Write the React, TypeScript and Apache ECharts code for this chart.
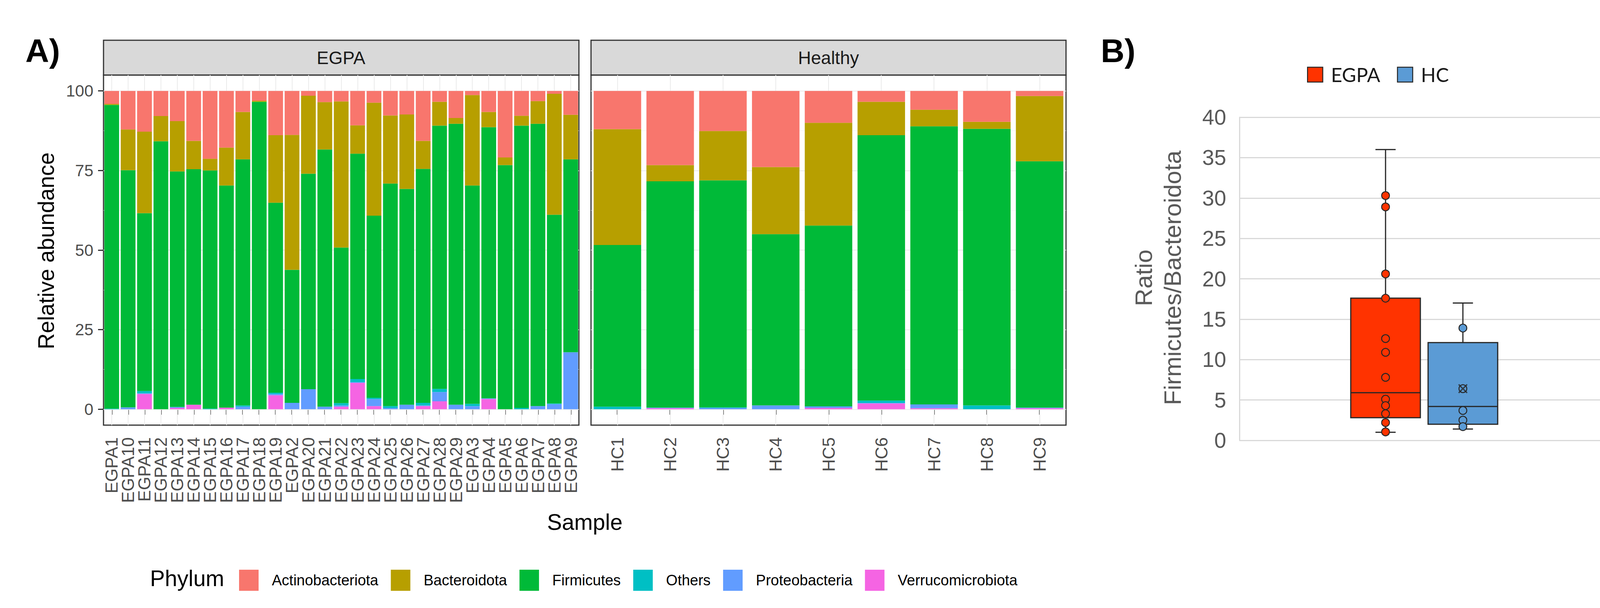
import React, { useEffect, useRef } from "react";
import * as echarts from "echarts";

// ---------- DATA ----------
const egpaSamples = [
  "EGPA1", "EGPA10", "EGPA11", "EGPA12", "EGPA13", "EGPA14", "EGPA15", "EGPA16", "EGPA17", "EGPA18",
  "EGPA19", "EGPA2", "EGPA20", "EGPA21", "EGPA22", "EGPA23", "EGPA24", "EGPA25", "EGPA26", "EGPA27",
  "EGPA28", "EGPA29", "EGPA3", "EGPA4", "EGPA5", "EGPA6", "EGPA7", "EGPA8", "EGPA9",
];
const hcSamples = ["HC1", "HC2", "HC3", "HC4", "HC5", "HC6", "HC7", "HC8", "HC9"];

const phyla = ["Actinobacteriota", "Bacteroidota", "Firmicutes", "Others", "Proteobacteria", "Verrucomicrobiota"];
const phylumColors = ["#F8766D", "#B79F00", "#00BA38", "#00BFC4", "#619CFF", "#F564E3"];

const egpaActinobacteriota = [4.1, 12.1, 12.8, 7.9, 9.5, 15.7, 21.3, 17.8, 6.6, 3.1, 13.9, 13.8, 1.5, 3.5, 3.3, 10.8, 3.7, 7.7, 7.4, 15.7, 3.4, 8.5, 1.3, 6.6, 20.9, 7.8, 3.2, 0.9, 7.5];
const egpaBacteroidota = [0.3, 12.8, 25.6, 7.9, 15.8, 8.9, 3.7, 11.9, 14.9, 0.3, 21.2, 42.4, 24.5, 14.9, 45.9, 8.9, 35.5, 21.4, 23.4, 8.8, 7.5, 1.8, 28.4, 4.8, 2.4, 3.1, 7.1, 38.0, 14.0];
const egpaFirmicutes = [95.4, 74.5, 55.9, 84.2, 74.0, 74.0, 74.8, 69.8, 77.3, 96.6, 59.7, 41.8, 67.7, 80.8, 48.9, 70.8, 57.2, 69.9, 67.8, 73.5, 82.7, 88.3, 68.6, 85.2, 76.7, 88.7, 88.7, 59.3, 60.6];
const egpaOthers = [0.2, 0, 0.7, 0, 0, 0, 0.2, 0, 0.4, 0, 0.4, 0, 0, 0, 0.7, 1.0, 0.4, 0.6, 0, 0.8, 1.0, 0, 0.7, 0, 0, 0.4, 0, 0.2, 0];
const egpaProteobacteria = [0, 0.6, 0.2, 0, 0.3, 0, 0, 0, 0.8, 0, 0.4, 2.0, 6.3, 0.8, 0.4, 0.2, 2.2, 0.4, 1.4, 0.2, 2.9, 1.4, 1.0, 0.2, 0, 0, 1.0, 1.6, 17.9];
const egpaVerrucomicrobiota = [0, 0, 4.8, 0, 0.4, 1.4, 0, 0.5, 0, 0, 4.4, 0, 0, 0, 0.8, 8.3, 1.0, 0, 0, 1.0, 2.5, 0, 0, 3.2, 0, 0, 0, 0, 0];

const hcActinobacteriota = [12.0, 23.3, 12.6, 23.9, 10.0, 3.4, 5.9, 9.7, 1.6];
const hcBacteroidota = [36.4, 5.1, 15.5, 21.1, 32.3, 10.5, 5.2, 2.2, 20.5];
const hcFirmicutes = [50.8, 71.1, 71.3, 53.8, 56.8, 83.4, 87.4, 86.9, 77.4];
const hcOthers = [0.8, 0, 0.2, 0, 0, 0.7, 0, 1.2, 0];
const hcProteobacteria = [0, 0.2, 0.4, 1.2, 0.5, 0.2, 1.2, 0, 0.2];
const hcVerrucomicrobiota = [0, 0.3, 0, 0, 0.4, 1.8, 0.3, 0, 0.3];

const abundanceTicks = [0, 25, 50, 75, 100];
const abundanceMinor = [12.5, 37.5, 62.5, 87.5];

// Panel B: Firmicutes/Bacteroidota ratio
const groups = ["EGPA", "HC"];
const groupColors = ["#FF3300", "#5B9BD5"];
// [min, Q1, median, Q3, max]
const egpaBox = [1.0, 2.8, 5.9, 17.6, 36.0];
const hcBox = [1.4, 2.0, 4.2, 12.1, 17.0];
const egpaPoints = [30.3, 28.9, 20.6, 17.6, 12.6, 10.9, 7.8, 5.1, 4.3, 3.3, 2.2, 1.05];
const hcPoints = [13.9, 6.4, 3.7, 2.5, 1.7];
const hcMean = 6.4;

// ---------- CHART ----------
const FONT = "'Liberation Sans', Arial, sans-serif";

function buildOption() {
  const egpaData = [egpaActinobacteriota, egpaBacteroidota, egpaFirmicutes, egpaOthers, egpaProteobacteria, egpaVerrucomicrobiota];
  const hcData = [hcActinobacteriota, hcBacteroidota, hcFirmicutes, hcOthers, hcProteobacteria, hcVerrucomicrobiota];

  const gridLinesFor = (cats: string[]) => ({
    silent: true,
    symbol: ["none", "none"],
    label: { show: false },
    z: 1,
    animation: false,
    emphasis: { disabled: true },
    lineStyle: { color: "#EBEBEB", width: 2, type: "solid" },
    data: [
      ...cats.map((c) => ({ xAxis: c })),
      ...abundanceTicks.map((v) => ({ yAxis: v })),
      ...abundanceMinor.map((v) => ({ yAxis: v, lineStyle: { color: "#F2F2F2", width: 1, type: "solid" } })),
    ],
  });

  const barSeries: any[] = [];
  // stacking order bottom -> top: last phylum first
  for (let k = phyla.length - 1; k >= 0; k--) {
    const isBottom = k === phyla.length - 1;
    barSeries.push({
      name: phyla[k],
      type: "bar",
      xAxisIndex: 0,
      yAxisIndex: 0,
      stack: "egpa",
      barCategoryGap: "10%",
      itemStyle: { color: phylumColors[k] },
      data: egpaData[k],
      z: 2,
      ...(isBottom ? { markLine: gridLinesFor(egpaSamples) } : {}),
    });
    barSeries.push({
      name: phyla[k],
      type: "bar",
      xAxisIndex: 1,
      yAxisIndex: 1,
      stack: "hc",
      barCategoryGap: "10%",
      itemStyle: { color: phylumColors[k] },
      data: hcData[k],
      z: 2,
      ...(isBottom ? { markLine: gridLinesFor(hcSamples) } : {}),
    });
  }

  const renderBox = (params: any, api: any) => {
    const x = api.value(0);
    const pMin = api.coord([x, api.value(1)]);
    const pQ1 = api.coord([x, api.value(2)]);
    const pMed = api.coord([x, api.value(3)]);
    const pQ3 = api.coord([x, api.value(4)]);
    const pMax = api.coord([x, api.value(5)]);
    const bw = api.size([1, 0])[0] * 0.9;
    const cap = bw * 0.29;
    const cx = pMed[0];
    const stroke = "#262626";
    const fill = api.visual("color");
    const ls = { stroke, lineWidth: 3 };
    return {
      type: "group",
      children: [
        { type: "line", shape: { x1: cx, y1: pMax[1], x2: cx, y2: pQ3[1] }, style: ls },
        { type: "line", shape: { x1: cx - cap / 2, y1: pMax[1], x2: cx + cap / 2, y2: pMax[1] }, style: ls },
        { type: "line", shape: { x1: cx, y1: pQ1[1], x2: cx, y2: pMin[1] }, style: ls },
        { type: "line", shape: { x1: cx - cap / 2, y1: pMin[1], x2: cx + cap / 2, y2: pMin[1] }, style: ls },
        {
          type: "rect",
          shape: { x: cx - bw / 2, y: pQ3[1], width: bw, height: pQ1[1] - pQ3[1] },
          style: { fill, stroke, lineWidth: 3 },
        },
        { type: "line", shape: { x1: cx - bw / 2, y1: pMed[1], x2: cx + bw / 2, y2: pMed[1] }, style: ls },
      ],
    };
  };

  const boxSeries = [
    {
      name: "EGPA",
      type: "custom",
      xAxisIndex: 3,
      yAxisIndex: 3,
      itemStyle: { color: groupColors[0] },
      encode: { x: 0, y: [1, 2, 3, 4, 5] },
      renderItem: renderBox,
      data: [[groups[0], ...egpaBox]],
      z: 3,
    },
    {
      name: "HC",
      type: "custom",
      xAxisIndex: 3,
      yAxisIndex: 3,
      itemStyle: { color: groupColors[1] },
      encode: { x: 0, y: [1, 2, 3, 4, 5] },
      renderItem: renderBox,
      data: [[groups[1], ...hcBox]],
      z: 3,
    },
    {
      name: "EGPA",
      type: "scatter",
      xAxisIndex: 3,
      yAxisIndex: 3,
      symbol: "circle",
      symbolSize: 20,
      itemStyle: { color: groupColors[0], borderColor: "#262626", borderWidth: 2.5, opacity: 1 },
      data: egpaPoints.map((v) => [groups[0], v]),
      z: 5,
    },
    {
      name: "HC",
      type: "scatter",
      xAxisIndex: 3,
      yAxisIndex: 3,
      symbol: "circle",
      symbolSize: 20,
      itemStyle: { color: groupColors[1], borderColor: "#262626", borderWidth: 2.5, opacity: 1 },
      data: hcPoints.map((v) => [groups[1], v]),
      z: 5,
    },
    {
      name: "HC mean",
      type: "scatter",
      xAxisIndex: 3,
      yAxisIndex: 3,
      symbol: "path://M2,0 L10,8 L18,0 L20,2 L12,10 L20,18 L18,20 L10,12 L2,20 L0,18 L8,10 L0,2 Z",
      symbolSize: 24,
      itemStyle: { color: "#262626" },
      data: [[groups[1], hcMean]],
      z: 6,
    },
  ];

  const panelGrid = { show: true, backgroundColor: "#FFFFFF", borderColor: "#333333", borderWidth: 3 };

  return {
    animation: false,
    backgroundColor: "#FFFFFF",
    textStyle: { fontFamily: FONT },
    grid: [
      { left: 265, top: 192, width: 1217, height: 896, ...panelGrid },
      { left: 1513, top: 192, width: 1216, height: 896, ...panelGrid },
      { left: 3173, top: 300, width: 962, height: 827, show: false },
      { left: 3448, top: 300, width: 396, height: 827, show: false },
    ],
    xAxis: [
      {
        type: "category",
        gridIndex: 0,
        data: egpaSamples,
        axisLine: { show: false },
        axisTick: { show: true, alignWithLabel: true, length: 14, lineStyle: { color: "#333333", width: 3 } },
        axisLabel: { rotate: 90, fontSize: 44, color: "#4D4D4D", margin: 31, fontFamily: FONT, interval: 0 },
        splitLine: { show: false },
      },
      {
        type: "category",
        gridIndex: 1,
        data: hcSamples,
        axisLine: { show: false },
        axisTick: { show: true, alignWithLabel: true, length: 14, lineStyle: { color: "#333333", width: 3 } },
        axisLabel: { rotate: 90, fontSize: 44, color: "#4D4D4D", margin: 31, fontFamily: FONT, interval: 0 },
        splitLine: { show: false },
      },
      {
        type: "category",
        gridIndex: 2,
        data: [""],
        axisLine: { show: false },
        axisTick: { show: false },
        axisLabel: { show: false },
      },
      {
        type: "category",
        gridIndex: 3,
        data: groups,
        show: false,
      },
    ],
    yAxis: [
      {
        type: "value",
        gridIndex: 0,
        min: -5,
        max: 105,
        axisLine: { show: false },
        axisTick: { show: true, length: 14, customValues: abundanceTicks, lineStyle: { color: "#333333", width: 3 } },
        axisLabel: { fontSize: 42, color: "#4D4D4D", margin: 26, customValues: abundanceTicks, fontFamily: FONT },
        splitLine: { show: false },
      },
      {
        type: "value",
        gridIndex: 1,
        min: -5,
        max: 105,
        axisLine: { show: false },
        axisTick: { show: false },
        axisLabel: { show: false },
        splitLine: { show: false },
      },
      {
        type: "value",
        gridIndex: 2,
        min: 0,
        max: 40,
        interval: 5,
        axisLine: { show: true, lineStyle: { color: "#D9D9D9", width: 3 } },
        axisTick: { show: false },
        axisLabel: { fontSize: 55, color: "#595959", margin: 34, fontFamily: FONT },
        splitLine: { show: true, lineStyle: { color: "#D9D9D9", width: 3 } },
      },
      {
        type: "value",
        gridIndex: 3,
        min: 0,
        max: 40,
        interval: 5,
        show: false,
      },
    ],
    legend: [
      {
        data: phyla,
        left: 607,
        top: 1453,
        orient: "horizontal",
        icon: "rect",
        itemWidth: 50,
        itemHeight: 54,
        itemGap: 32,
        selectedMode: false,
        textStyle: { fontSize: 38, color: "#000000", fontFamily: FONT, padding: [0, 0, 0, 29] },
      },
      {
        data: groups,
        left: 3341,
        top: 161,
        orient: "horizontal",
        icon: "rect",
        itemWidth: 39,
        itemHeight: 38,
        itemGap: 43,
        selectedMode: false,
        itemStyle: { borderColor: "#262626", borderWidth: 2.5 },
        textStyle: { fontSize: 50, color: "#1A1A1A", fontFamily: "Lato, 'Open Sans', sans-serif", padding: [0, 0, 0, 16] },
      },
    ],
    graphic: [
      { type: "text", left: 65, top: 88, style: { text: "A)", fontSize: 84, fontWeight: "bold", fontFamily: FONT, fill: "#000000" } },
      { type: "text", left: 2818, top: 88, style: { text: "B)", fontSize: 84, fontWeight: "bold", fontFamily: FONT, fill: "#000000" } },
      {
        type: "rect",
        shape: { x: 265, y: 103, width: 1217, height: 89 },
        style: { fill: "#D9D9D9", stroke: "#333333", lineWidth: 3 },
      },
      {
        type: "rect",
        shape: { x: 1513, y: 103, width: 1216, height: 89 },
        style: { fill: "#D9D9D9", stroke: "#333333", lineWidth: 3 },
      },
      {
        type: "text",
        x: 873,
        y: 148,
        style: { text: "EGPA", fontSize: 46, fontFamily: FONT, fill: "#1A1A1A", align: "center", verticalAlign: "middle" },
      },
      {
        type: "text",
        x: 2121,
        y: 148,
        style: { text: "Healthy", fontSize: 46, fontFamily: FONT, fill: "#1A1A1A", align: "center", verticalAlign: "middle" },
      },
      {
        type: "text",
        x: 118,
        y: 642,
        rotation: Math.PI / 2,
        style: { text: "Relative abundance", fontSize: 57, fontFamily: FONT, fill: "#000000", align: "center", verticalAlign: "middle" },
      },
      {
        type: "text",
        x: 1497,
        y: 1336,
        style: { text: "Sample", fontSize: 57, fontFamily: FONT, fill: "#000000", align: "center", verticalAlign: "middle" },
      },
      {
        type: "text",
        x: 384,
        y: 1480,
        style: { text: "Phylum", fontSize: 57, fontFamily: FONT, fill: "#000000", align: "left", verticalAlign: "middle" },
      },
      {
        type: "text",
        x: 2964,
        y: 711,
        rotation: Math.PI / 2,
        style: {
          text: "Ratio\nFirmicutes/Bacteroidota",
          fontSize: 62,
          lineHeight: 74,
          fontFamily: FONT,
          fill: "#595959",
          align: "center",
          verticalAlign: "middle",
        },
      },
    ],
    series: [...barSeries, ...boxSeries],
  };
}

export default function App() {
  const ref = useRef<HTMLDivElement>(null);
  useEffect(() => {
    if (!ref.current) return;
    const chart = echarts.init(ref.current, undefined, { renderer: "svg" });
    chart.setOption(buildOption() as any);
    return () => chart.dispose();
  }, []);
  return (
    <div
      ref={ref}
      style={{ position: "absolute", left: 0, top: 0, width: 4200, height: 1556, background: "#FFFFFF" }}
    />
  );
}
